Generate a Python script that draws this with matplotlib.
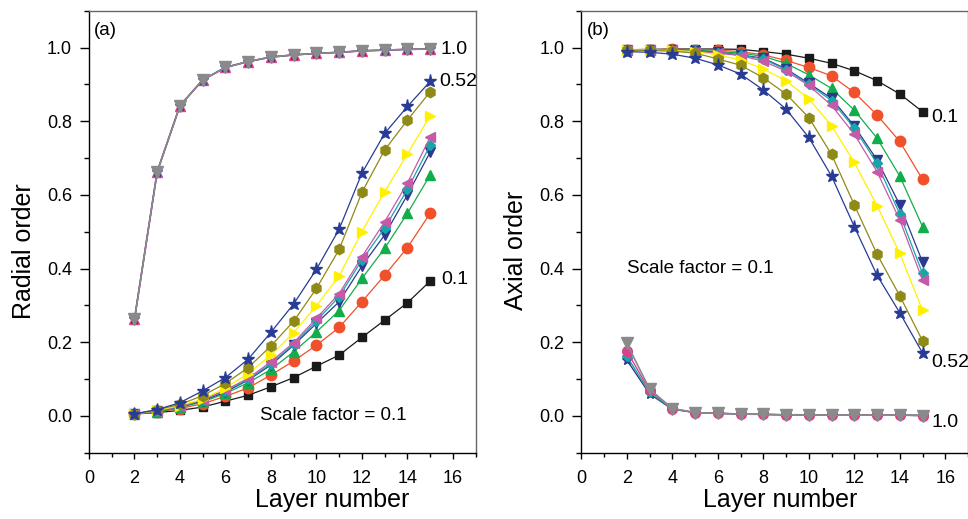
import numpy as np
import matplotlib
matplotlib.use("Agg")
import matplotlib.pyplot as plt
from matplotlib.ticker import MultipleLocator, FormatStrFormatter

plt.rcParams["font.family"] = ["Liberation Sans", "DejaVu Sans"]

layers = list(range(2, 16))

# panel (a): radial order, one list per scale factor (0.1 ... 0.52), plus the 1.0 group
radial_01 = [0.005, 0.009, 0.015, 0.024, 0.040, 0.056, 0.079, 0.104, 0.135, 0.165, 0.213, 0.260, 0.307, 0.366]
radial_red = [0.005, 0.011, 0.020, 0.033, 0.053, 0.076, 0.111, 0.149, 0.192, 0.240, 0.310, 0.382, 0.457, 0.550]
radial_green = [0.005, 0.011, 0.023, 0.038, 0.061, 0.090, 0.126, 0.174, 0.228, 0.286, 0.373, 0.455, 0.550, 0.654]
radial_navy = [0.005, 0.014, 0.025, 0.041, 0.065, 0.097, 0.138, 0.192, 0.251, 0.310, 0.407, 0.491, 0.600, 0.716]
radial_teal = [0.005, 0.014, 0.025, 0.043, 0.068, 0.099, 0.142, 0.195, 0.258, 0.324, 0.423, 0.510, 0.615, 0.735]
radial_magenta = [0.005, 0.014, 0.026, 0.044, 0.070, 0.102, 0.147, 0.199, 0.265, 0.332, 0.432, 0.527, 0.632, 0.757]
radial_yellow = [0.005, 0.015, 0.028, 0.045, 0.076, 0.115, 0.165, 0.226, 0.299, 0.380, 0.500, 0.609, 0.711, 0.815]
radial_olive = [0.006, 0.017, 0.031, 0.055, 0.088, 0.131, 0.190, 0.257, 0.346, 0.452, 0.607, 0.722, 0.803, 0.880]
radial_052 = [0.005, 0.017, 0.036, 0.068, 0.104, 0.154, 0.227, 0.304, 0.398, 0.507, 0.659, 0.767, 0.840, 0.908]
radial_10 = [0.262, 0.663, 0.842, 0.912, 0.946, 0.962, 0.974, 0.980, 0.984, 0.987, 0.991, 0.993, 0.995, 0.996]

# panel (b): axial order
axial_01 = [0.994, 0.995, 0.996, 0.996, 0.996, 0.995, 0.989, 0.982, 0.971, 0.957, 0.937, 0.910, 0.874, 0.826]
axial_red = [0.994, 0.994, 0.995, 0.994, 0.993, 0.989, 0.980, 0.965, 0.946, 0.923, 0.878, 0.817, 0.745, 0.642]
axial_green = [0.994, 0.994, 0.994, 0.993, 0.989, 0.985, 0.976, 0.957, 0.926, 0.889, 0.830, 0.754, 0.651, 0.514]
axial_navy = [0.994, 0.994, 0.993, 0.991, 0.987, 0.980, 0.971, 0.942, 0.903, 0.862, 0.787, 0.695, 0.573, 0.418]
axial_teal = [0.994, 0.994, 0.993, 0.990, 0.986, 0.979, 0.969, 0.940, 0.900, 0.856, 0.781, 0.686, 0.548, 0.387]
axial_magenta = [0.994, 0.994, 0.992, 0.989, 0.985, 0.978, 0.963, 0.936, 0.897, 0.843, 0.765, 0.663, 0.532, 0.369]
axial_yellow = [0.994, 0.993, 0.992, 0.989, 0.980, 0.966, 0.942, 0.910, 0.861, 0.788, 0.688, 0.571, 0.441, 0.287]
axial_olive = [0.993, 0.992, 0.990, 0.985, 0.969, 0.952, 0.918, 0.874, 0.810, 0.710, 0.573, 0.439, 0.326, 0.204]
axial_052 = [0.989, 0.987, 0.982, 0.971, 0.953, 0.928, 0.885, 0.833, 0.756, 0.651, 0.514, 0.382, 0.280, 0.171]
# the 1.0 group is a bundle of near-identical curves that only split at layer 2-3
axial_10_navy = [0.152, 0.060, 0.018, 0.009, 0.007, 0.005, 0.004, 0.003, 0.003, 0.002, 0.002, 0.002, 0.002, 0.001]
axial_10_teal = [0.162, 0.064, 0.019, 0.009, 0.007, 0.005, 0.004, 0.003, 0.003, 0.002, 0.002, 0.002, 0.002, 0.001]
axial_10_pink = [0.176, 0.069, 0.020, 0.009, 0.007, 0.005, 0.004, 0.003, 0.003, 0.002, 0.002, 0.002, 0.002, 0.001]
axial_10_gray = [0.197, 0.073, 0.020, 0.009, 0.007, 0.005, 0.004, 0.003, 0.003, 0.002, 0.002, 0.002, 0.002, 0.001]

styles = [
    ("#1a1a1a", "s", 6.0),
    ("#f0502a", "o", 7.5),
    ("#12ad4b", "^", 7.5),
    ("#2b3990", "v", 7.5),
    ("#17a6a8", "D", 5.5),
    ("#c45aa8", "<", 7.5),
    ("#fff000", ">", 7.5),
    ("#8f8a17", "h", 7.5),
    ("#283c96", "*", 9.5),
]


def style_axes(ax, ylabel, tag, xlabel_x):
    ax.set_xlim(0, 17)
    ax.set_ylim(-0.1, 1.1)
    ax.xaxis.set_major_locator(MultipleLocator(2))
    ax.xaxis.set_minor_locator(MultipleLocator(1))
    ax.yaxis.set_major_locator(MultipleLocator(0.2))
    ax.yaxis.set_minor_locator(MultipleLocator(0.1))
    ax.yaxis.set_major_formatter(FormatStrFormatter("%.1f"))
    ax.tick_params(which="both", direction="out", top=False, right=False, labelsize=13, width=1.0)
    ax.tick_params(axis="y", which="major", length=6.2, pad=6)
    ax.tick_params(axis="y", which="minor", length=3.5)
    ax.tick_params(axis="x", which="major", length=4.5, pad=8)
    ax.tick_params(axis="x", which="minor", length=3)
    for side in ["top", "right"]:
        ax.spines[side].set_color("#666666")
    for side in ax.spines:
        ax.spines[side].set_linewidth(1.0)
    ax.set_xlabel("Layer number", fontsize=18, labelpad=1)
    ax.set_ylabel(ylabel, fontsize=18)
    ax.yaxis.set_label_coords(-0.138, 0.457)
    ax.xaxis.label.set_x(xlabel_x)
    ax.text(0.014, 0.955, tag, transform=ax.transAxes, fontsize=13.5, va="center")


fig = plt.figure(figsize=(9.68, 5.19), dpi=100)
ax_a = fig.add_axes([0.0919, 0.1277, 0.3995, 0.8517])
ax_b = fig.add_axes([0.6005, 0.1277, 0.3995, 0.8517])

radial = [radial_01, radial_red, radial_green, radial_navy, radial_teal,
          radial_magenta, radial_yellow, radial_olive, radial_052]
axial = [axial_01, axial_red, axial_green, axial_navy, axial_teal,
         axial_magenta, axial_yellow, axial_olive, axial_052]

for vals, (c, m, ms) in zip(radial, styles):
    ax_a.plot(layers, vals, color=c, marker=m, markersize=ms, lw=0.9)
for vals, (c, m, ms) in zip(axial, styles):
    ax_b.plot(layers, vals, color=c, marker=m, markersize=ms, lw=0.9)

# 1.0 bundle: coloured markers hidden under the grey ones
ax_a.plot(layers, radial_10, color="#d9428a", marker="^", markersize=7.5, lw=1.2)
ax_a.plot(layers, radial_10, color="#2b3990", marker="*", markersize=8, lw=1.0)
ax_a.plot(layers, radial_10, color="#8a8a8a", marker="v", markersize=8, lw=1.2)

ax_b.plot(layers, axial_10_navy, color="#2b3990", marker="*", markersize=8, lw=1.0)
ax_b.plot(layers, axial_10_teal, color="#17a6a8", marker="D", markersize=5.5, lw=1.0)
ax_b.plot(layers, axial_10_pink, color="#d9428a", marker="o", markersize=7, lw=1.0)
ax_b.plot(layers, axial_10_gray, color="#8a8a8a", marker="v", markersize=8, lw=1.2)

style_axes(ax_a, "Radial order", "(a)", 0.628)
style_axes(ax_b, "Axial order", "(b)", 0.515)

ax_a.text(15.47, 0.996, "1.0", fontsize=14, va="center")
ax_a.text(15.38, 0.908, "0.52", fontsize=14, va="center")
ax_a.text(15.47, 0.369, "0.1", fontsize=14, va="center")
ax_a.text(7.52, 0.002, "Scale factor = 0.1", fontsize=13.5, va="center")

ax_b.text(15.37, 0.809, "0.1", fontsize=14, va="center", clip_on=False)
ax_b.text(15.40, 0.144, "0.52", fontsize=14, va="center", clip_on=False)
ax_b.text(15.40, -0.019, "1.0", fontsize=14, va="center", clip_on=False)
ax_b.text(2.0, 0.399, "Scale factor = 0.1", fontsize=13.5, va="center")

fig.savefig("out.png", dpi=100)
